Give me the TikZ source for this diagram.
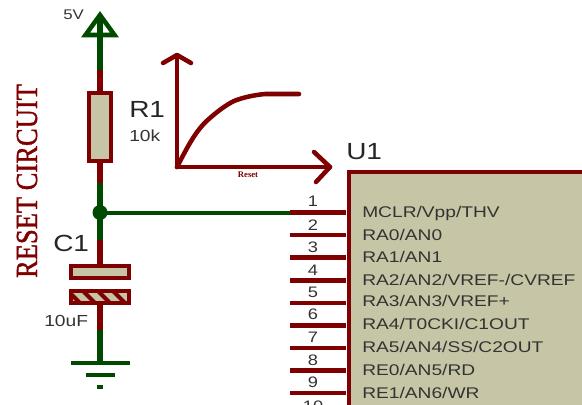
\documentclass[tikz,border=0pt]{standalone}
\usepackage{fontspec}
\setmainfont{Liberation Sans}
\newfontfamily\widefont[FakeStretch=1.24]{Liberation Sans}
\newfontfamily\bigfont[FakeStretch=1.2]{Liberation Sans}
\newfontfamily\titlefont[FakeStretch=0.865,FakeBold=1.2]{Liberation Serif}
\newfontfamily\smallserif{Liberation Serif}
\definecolor{wirered}{HTML}{7F0000}
\definecolor{wiregreen}{HTML}{004A00}
\definecolor{bodyfill}{HTML}{C6C6A6}
\definecolor{labelgray}{HTML}{333333}
\tikzset{
  redwire/.style={draw=wirered,line width=3.8pt},
  greenwire/.style={draw=wiregreen,line width=3.8pt},
  pinline/.style={draw=wirered,line width=3.2pt},
  graphline/.style={draw=wirered,line width=3.4pt,line join=round,line cap=round},
  part/.style={draw=wirered,fill=bodyfill,line width=3pt,inner sep=0pt,minimum width=#1},
  lbl/.style={anchor=base west,inner sep=0pt,text=labelgray,font=\widefont\fontsize{11.6pt}{12pt}\selectfont},
  big/.style={anchor=base west,inner sep=0pt,text=black!85,font=\bigfont\fontsize{17.5pt}{18pt}\selectfont},
  small/.style={anchor=base west,inner sep=0pt,text=labelgray,font=\bigfont\fontsize{#1}{12pt}\selectfont},
  pinnum/.style={anchor=base,inner sep=0pt,text=labelgray,font=\bigfont\fontsize{11.4pt}{12pt}\selectfont},
}
\begin{document}
\begin{tikzpicture}[x=0.75pt,y=-0.75pt]
\useasboundingbox (0,0) rectangle (582,404);
\clip (0,0) rectangle (582,404);

% title
\node[rotate=90,inner sep=0pt,text=wirered,font=\titlefont\fontsize{23pt}{24pt}\selectfont] (title) at (27,181) {RESET CIRCUIT};

% supply and resistor
\coordinate (vtop) at (100,15);
\coordinate (rwire) at (100,70);
\coordinate (rwireb) at (100,183);
\node[part=16.5pt,minimum height=51pt] (R1) at (100,126.5) {};
\draw[draw=wiregreen,line width=3.4pt,line join=miter,fill=white] (vtop) -- (114.5,35) -- (85.5,35) -- cycle;
\draw[greenwire] (vtop) -- (rwire);
\draw[redwire] (rwire) -- (R1.north);
\draw[redwire] (R1.south) -- (rwireb);
\node[small=10.5pt] (v5) at (63,19) {5V};
\node[big] (R1lab) at (129,117) {R1};
\node[small=12pt] (R1val) at (129,141) {10k};

% junction and capacitor
\coordinate (J) at (100,212.5);
\coordinate (cwire) at (100,240);
\node[part=43pt,minimum height=9pt] (Ctop) at (100,272) {};
\node[part=43pt,minimum height=9pt] (Cbot) at (100,297) {};
\begin{scope}
  \clip (72,292) rectangle (128,302);
  \foreach \s in {68,83,98,113,128}
    \draw[wirered,line width=3pt] (\s,291) -- (\s+12,303);
\end{scope}
\coordinate (cwireb) at (100,330);
\coordinate (gnd) at (100,363);
\draw[greenwire] (rwireb) -- (J);
\draw[greenwire] (J) -- (cwire);
\draw[redwire] (cwire) -- (Ctop.north);
\draw[redwire] (Cbot.south) -- (cwireb);
\draw[greenwire] (cwireb) -- (gnd);
\fill[wiregreen] (J) circle[radius=7.5];
\node[big] (C1lab) at (53,251) {C1};
\node[small=12pt] (C1val) at (44,326) {10uF};

% ground
\coordinate (g1l) at (71,363); \coordinate (g1r) at (130,363);
\coordinate (g2l) at (86,375); \coordinate (g2r) at (115,375);
\coordinate (g3l) at (97,387); \coordinate (g3r) at (103,387);
\draw[draw=wiregreen,line width=3.4pt] (g1l) -- (g1r);
\draw[draw=wiregreen,line width=3.4pt] (g2l) -- (g2r);
\draw[draw=wiregreen,line width=3.4pt] (g3l) -- (g3r);

% reset curve sketch
\coordinate (O) at (177,167);
\coordinate (yend) at (177,55);
\coordinate (xend) at (330,167);
\draw[graphline] (O) -- (yend);
\draw[graphline] (O) -- (xend);
\draw[graphline] (163,63) -- (yend) -- (191,63);
\draw[graphline] (314,152) -- (xend) -- (316,182);
\draw[graphline] (O) .. controls (190,142) and (197,129) .. (210,118) .. controls (218,111) and (226,105) .. (234,101) .. controls (244,97) and (255,95) .. (265,94) -- (299,94);
\node[inner sep=0pt,text=wirered,font=\smallserif\bfseries\fontsize{6.5pt}{7pt}\selectfont] (resetlab) at (248,175) {Reset};

% IC body
\node[draw=wirered,fill=bodyfill,line width=3pt,anchor=north west,inner sep=0pt,minimum width=240pt,minimum height=240pt] (U1) at (347,169.5) {};
\node[big] (U1lab) at (346,159.5) {U1};

% pins
\foreach \n/\py/\numy/\ty/\txt in {
  1/212.5/206.7/217/{MCLR/Vpp/THV},
  2/235/230/240.7/{RA0/AN0},
  3/257.5/252/262.7/{RA1/AN1},
  4/280.5/275/285.7/{RA2/AN2/VREF-/CVREF},
  5/303/297/306.7/{RA3/AN3/VREF+},
  6/325.5/319/329.7/{RA4/T0CKI/C1OUT},
  7/348/342/352/{RA5/AN4/SS/C2OUT},
  8/370.5/365/375/{RE0/AN5/RD},
  9/393/387/398/{RE1/AN6/WR}}{
  \coordinate (p\n) at (290,\py);
  \coordinate (q\n) at (346,\py);
  \draw[pinline] (p\n) -- (q\n);
  \node[pinnum] (num\n) at (313,\numy) {\n};
  \node[lbl] (sig\n) at (362,\ty) {\txt};
}
\node[pinnum] (num10) at (313,411) {10};
\draw[greenwire,line width=3pt] (J) -- (p1);
\end{tikzpicture}
\end{document}
